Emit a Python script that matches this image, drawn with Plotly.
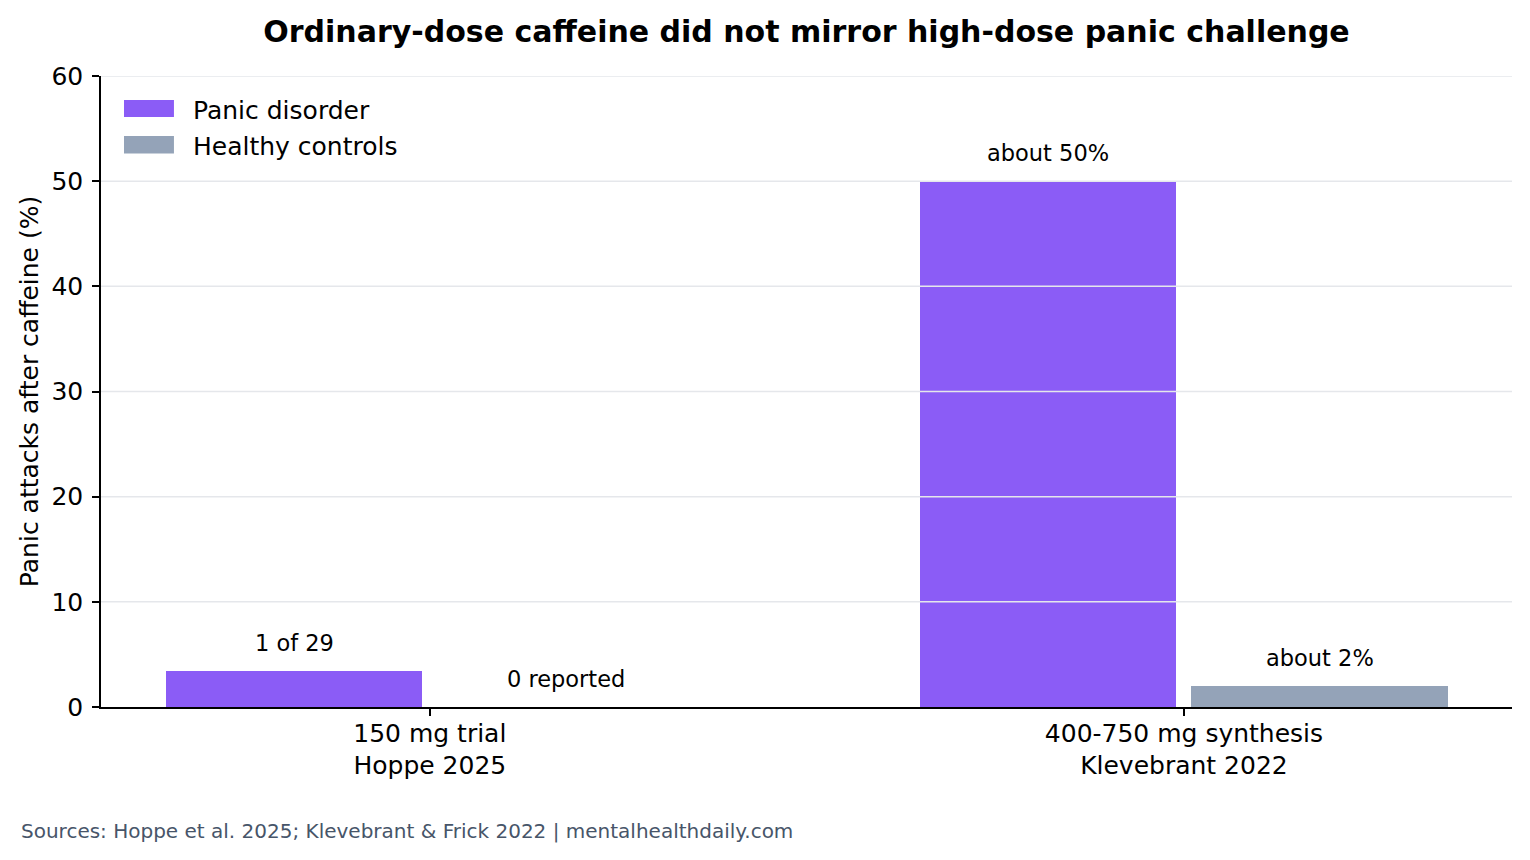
import plotly.graph_objects as go

# ---- data ----
studies = ["150 mg trial<br>Hoppe 2025", "400-750 mg synthesis<br>Klevebrant 2022"]
series_names = ["Panic disorder", "Healthy controls"]
panic = [3.45, 50]
healthy = [0, 2]
panic_labels = ["1 of 29", "about 50%"]
healthy_labels = ["0 reported", "about 2%"]
y_ticks = [0, 10, 20, 30, 40, 50, 60]

# ---- style ----
colors = ["#8b5cf6", "#94a3b8"]
FONT = "DejaVu Sans"
bar_width = 0.34
offsets = [-0.35, 0.01]
xpos = list(range(len(studies)))

fig = go.Figure()
series = [panic, healthy]
labels = [panic_labels, healthy_labels]
for s, (vals, name, col, off) in enumerate(zip(series, series_names, colors, offsets)):
    fig.add_trace(go.Bar(
        x=xpos, y=vals, name=name, width=bar_width, offset=off,
        marker=dict(color=col, line=dict(width=0)), showlegend=False,
    ))
    for i, (v, t) in enumerate(zip(vals, labels[s])):
        fig.add_annotation(
            x=xpos[i] + off + bar_width / 2, y=v, xref="x", yref="y",
            text=t, showarrow=False, yanchor="middle", yshift=28,
            font=dict(family=FONT, size=22.5, color="black"),
        )

# gridlines drawn above bars
for t in y_ticks[1:]:
    fig.add_shape(type="line", xref="paper", yref="y", x0=0, x1=1, y0=t, y1=t,
                  line=dict(color="#e5e7eb", width=1.5), layer="above")

# manual legend
leg_y = [(0.962, 0.935), (0.905, 0.877)]
for (y0, y1), name, col in zip(leg_y, series_names, colors):
    fig.add_shape(type="rect", xref="paper", yref="paper", x0=0.0163, x1=0.0517,
                  y0=y1, y1=y0, fillcolor=col, line=dict(width=0), layer="above")
    fig.add_annotation(xref="paper", yref="paper", x=0.0638, y=(y0 + y1) / 2 - 0.003,
                       xanchor="left", yanchor="middle", text=name, showarrow=False,
                       font=dict(family=FONT, size=25, color="black"))

# footer
fig.add_annotation(xref="paper", yref="paper", x=-0.058, y=-0.1965, xanchor="left",
                   yanchor="middle", showarrow=False,
                   text="Sources: Hoppe et al. 2025; Klevebrant & Frick 2022 | mentalhealthdaily.com",
                   font=dict(family=FONT, size=20, color="#475569"))

fig.update_layout(
    width=1530, height=860,
    margin=dict(l=101, r=18, t=76, b=153),
    paper_bgcolor="white", plot_bgcolor="white",
    font=dict(family=FONT, color="black"),
    title=dict(text="<b>Ordinary-dose caffeine did not mirror high-dose panic challenge</b>",
               x=0.5, xref="paper", xanchor="center", y=1 - 31 / 860, yref="container",
               yanchor="middle", font=dict(family=FONT, size=30, color="black")),
    bargap=0,
)
fig.update_xaxes(
    range=[-0.436, 1.435], tickvals=xpos, ticktext=studies,
    ticks="outside", ticklen=7, tickwidth=1.5, tickcolor="black",
    showline=True, linecolor="black", linewidth=1.5, showgrid=False, zeroline=False,
    tickfont=dict(family=FONT, size=25, color="black"), ticklabelstandoff=-4,
)
fig.update_yaxes(
    range=[0, 60], tickvals=y_ticks,
    ticks="outside", ticklen=7, tickwidth=1.5, tickcolor="black",
    showline=True, linecolor="black", linewidth=1.5, showgrid=False, zeroline=False,
    tickfont=dict(family=FONT, size=25, color="black"), ticklabelstandoff=4,
    title=dict(text="Panic attacks after caffeine (%)", standoff=6,
               font=dict(family=FONT, size=25, color="black")),
)

fig.write_html("out.html")
